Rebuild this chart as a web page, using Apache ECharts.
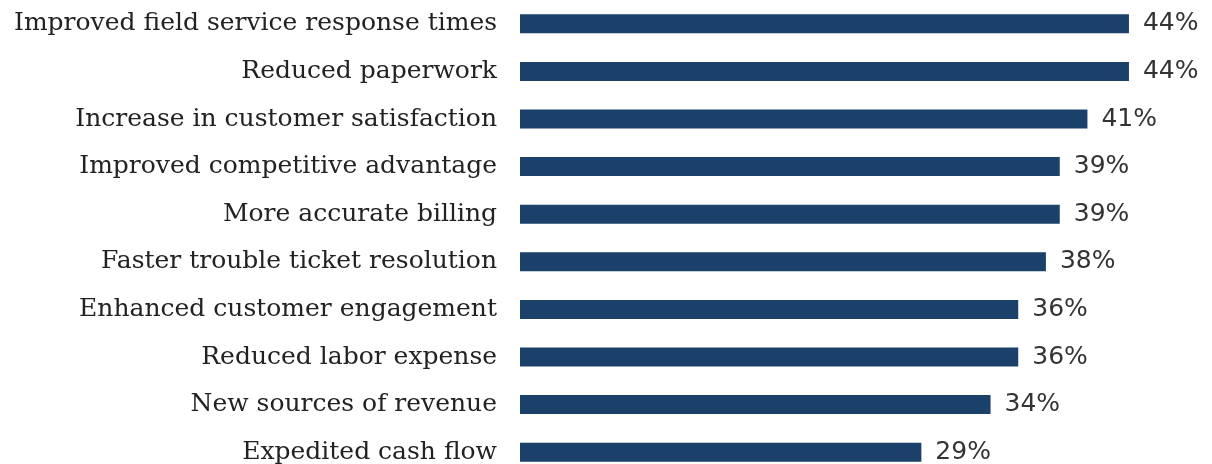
<!DOCTYPE html>
<html>
<head>
<meta charset="utf-8">
<script src="https://cdn.jsdelivr.net/npm/echarts@6/dist/echarts.min.js"></script>
<style>
	html, body { margin: 0; padding: 0; background: #fff; }
	#chart { width: 1212px; height: 464px; }
</style>
</head>
<body>
<div id="chart"></div>
<script>
var categories = [
	'Improved field service response times',
	'Reduced paperwork',
	'Increase in customer satisfaction',
	'Improved competitive advantage',
	'More accurate billing',
	'Faster trouble ticket resolution',
	'Enhanced customer engagement',
	'Reduced labor expense',
	'New sources of revenue',
	'Expedited cash flow'
];
var values = [44, 44, 41, 39, 39, 38, 36, 36, 34, 29];

var myChart = echarts.init(document.getElementById('chart'));
var option = {
	animation: false,
	grid: {
		left: 520,
		width: 692,
		top: 0,
		height: 476,
		outerBoundsMode: 'none'
	},
	xAxis: {
		type: 'value',
		min: 0,
		max: 50,
		show: false
	},
	yAxis: {
		type: 'category',
		inverse: true,
		data: categories,
		axisLine: { show: false },
		axisTick: { show: false },
		axisLabel: {
			margin: 23,
			color: '#222',
			fontFamily: 'DejaVu Serif',
			fontSize: 25
		}
	},
	series: [{
		type: 'bar',
		data: values,
		barWidth: 19,
		itemStyle: { color: '#1b416b' },
		label: {
			show: true,
			position: 'right',
			distance: 14,
			formatter: '{c}%',
			color: '#333',
			fontFamily: 'DejaVu Sans',
			fontSize: 25
		}
	}]
};
myChart.setOption(option);
</script>
</body>
</html>
